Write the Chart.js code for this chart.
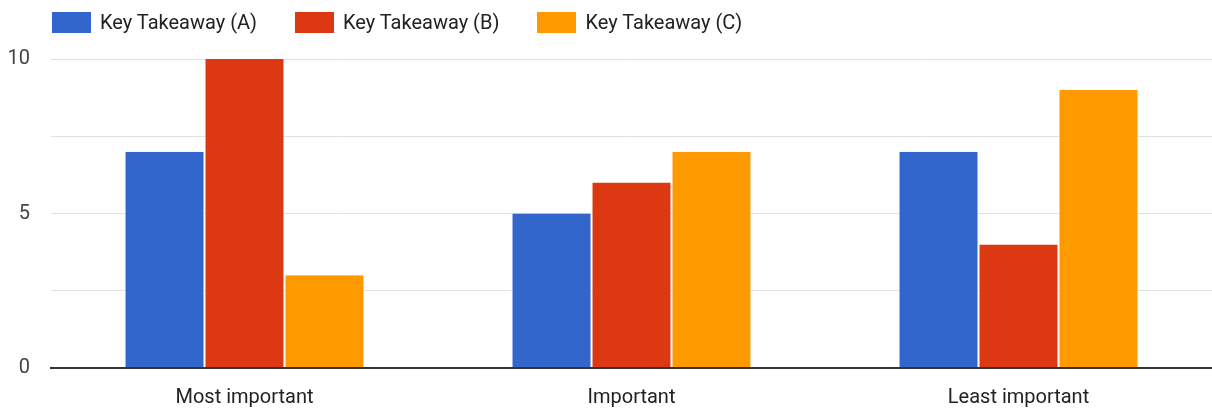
<!DOCTYPE html>
<html lang="en">
<head>
    <meta charset="UTF-8">
    <title>Key Takeaways</title>
    <script src="https://cdn.jsdelivr.net/npm/chart.js@4.4.1/dist/chart.umd.min.js"></script>
    <style>
        html, body { margin: 0; padding: 0; background: #fff; }
        #wrap { position: relative; width: 1212px; height: 410px; font-family: Roboto, "Noto Sans", sans-serif; }
        #legend { position: absolute; left: 52px; top: 12px; display: flex; z-index: 2; }
        .legend-item { display: flex; align-items: center; margin-right: 38px; height: 21px; }
        .legend-box { width: 39px; height: 21px; margin-right: 9px; }
        .legend-text { font-size: 20px; color: #222; line-height: 21px; white-space: nowrap; }
    </style>
</head>
<body>
<div id="wrap">
    <div id="legend"></div>
    <canvas id="main_chart"></canvas>
</div>
<script>
    const categories = ['Most important', 'Important', 'Least important'];
    const seriesNames = ['Key Takeaway (A)', 'Key Takeaway (B)', 'Key Takeaway (C)'];
    const valuesA = [7, 5, 7];
    const valuesB = [10, 6, 4];
    const valuesC = [3, 7, 9];
    const yLabels = [0, 5, 10];
    const COLORS = ['#3366cc', '#dc3912', '#ff9900'];

    Chart.defaults.font.family = 'Roboto, "Noto Sans", sans-serif';
    Chart.defaults.font.size = 20;

    // legend drawn as html, the chart.js one can't space rows and items separately
    const legendEl = document.getElementById('legend');
    seriesNames.forEach((name, i) => {
        const item = document.createElement('div');
        item.className = 'legend-item';
        item.innerHTML = '<div class="legend-box" style="background:' + COLORS[i] + '"></div>' +
            '<span class="legend-text">' + name + '</span>';
        legendEl.appendChild(item);
    });

    const ctx = document.getElementById('main_chart').getContext('2d');
    const chart = new Chart(ctx, {
        type: 'bar',
        data: {
            labels: categories,
            datasets: [valuesA, valuesB, valuesC].map((vals, i) => ({
                label: seriesNames[i],
                data: vals,
                backgroundColor: COLORS[i],
                borderColor: '#ffffff',
                borderWidth: {left: 1, right: 1, top: 0, bottom: 0},
                categoryPercentage: 0.62,
                barPercentage: 1
            }))
        },
        options: {
            responsive: true,
            maintainAspectRatio: false,
            animation: false,
            layout: {padding: {left: 0, right: 0, top: 59, bottom: 0}},
            plugins: {
                tooltip: {enabled: false},
                legend: {display: false}
            },
            scales: {
                x: {
                    grid: {display: false, drawTicks: false},
                    border: {display: true, color: '#333', width: 2},
                    ticks: {color: '#222', padding: 18},
                    afterFit: scale => { scale.height = 42; }
                },
                y: {
                    min: 0,
                    max: 10,
                    border: {display: false},
                    grid: {
                        drawTicks: false,
                        color: c => c.tick.value === 0 ? '#333' : '#e0e0e0',
                        lineWidth: c => c.tick.value === 0 ? 2 : 1
                    },
                    ticks: {
                        stepSize: 2.5,
                        padding: 21,
                        color: '#444',
                        callback: v => yLabels.includes(v) ? v : ''
                    },
                    afterFit: scale => { scale.width = 51; }
                }
            }
        }
    });
</script>
</body>
</html>
